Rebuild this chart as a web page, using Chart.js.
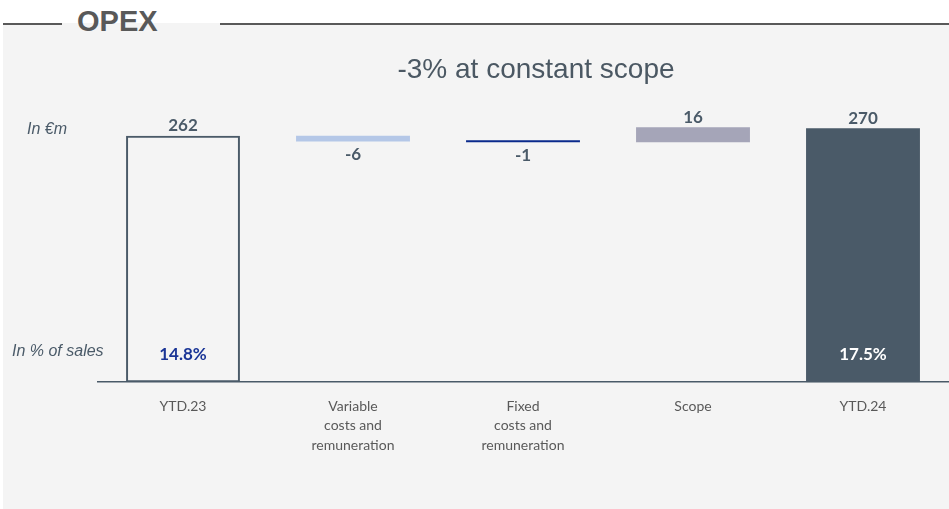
<!DOCTYPE html>
<html lang="en">
<head>
  <meta charset="UTF-8" />
  <title>OPEX</title>
  <script src="https://cdn.jsdelivr.net/npm/chart.js"></script>
  <style>
    body {
      margin: 0;
      background: #ffffff;
      font-family: 'Lato', sans-serif;
    }
    .page {
      position: relative;
      width: 949px;
      height: 509px;
      overflow: hidden;
    }
    .panel {
      position: absolute;
      left: 3px;
      top: 23px;
      width: 946px;
      height: 486px;
      background: #f4f4f4;
    }
    .rule {
      position: absolute;
      top: 23px;
      height: 2px;
      background: #595959;
    }
    .head {
      position: absolute;
      left: 77px;
      top: 4px;
      font-family: 'Liberation Sans', Arial, sans-serif;
      font-weight: bold;
      font-size: 29px;
      line-height: 34px;
      color: #595959;
    }
    canvas { position: absolute; left: 0; top: 0; }
  </style>
</head>
<body>
  <div class="page">
    <div class="panel"></div>
    <div class="rule" style="left:3px;width:59px"></div>
    <div class="rule" style="left:220px;width:729px"></div>
    <div class="head">OPEX</div>
    <canvas id="chart" width="949" height="509"></canvas>
  </div>

  <script>
    const categories = [['YTD.23'], ['Variable', 'costs and', 'remuneration'], ['Fixed', 'costs and', 'remuneration'], ['Scope'], ['YTD.24']];
    const startTotal = 262;
    const deltas = [-6, -1, 16];
    const endTotal = 270;
    const shareOfSales = ['14.8%', '', '', '', '17.5%'];
    const valueLabels = ['262', '-6', '-1', '16', '270'];
    const barColors = ['rgba(0,0,0,0)', '#b4c7e7', '#0a2a8c', '#a5a5b8', '#4a5a68'];

    // floating bars for the bridge
    const bars = [[0, startTotal]];
    let running = startTotal;
    deltas.forEach(d => {
      bars.push([running, running + d]);
      running += d;
    });
    bars.push([0, endTotal]);

    const slate = '#4a5a68';

    const textPlugin = {
      id: 'texts',
      afterDatasetsDraw(chart) {
        const ctx = chart.ctx;
        const meta = chart.getDatasetMeta(0);
        const y = chart.scales.y;
        ctx.save();
        ctx.textAlign = 'center';
        ctx.textBaseline = 'middle';

        // subtitle
        ctx.font = '28px "Liberation Sans", Arial, sans-serif';
        ctx.fillStyle = '#4b5863';
        ctx.fillText('-3% at constant scope', 536, 70);

        // side notes
        ctx.font = 'italic 16px "Liberation Sans", Arial, sans-serif';
        ctx.fillStyle = slate;
        ctx.textAlign = 'left';
        ctx.fillText('In €m', 27, 130);
        ctx.fillText('In % of sales', 12, 352);
        ctx.textAlign = 'center';

        meta.data.forEach((bar, i) => {
          const [a, b] = bars[i];
          ctx.font = 'bold 17px Lato, sans-serif';
          ctx.fillStyle = slate;
          if (i > 0 && i < 4 && b < a) {
            ctx.fillText(valueLabels[i], bar.x, y.getPixelForValue(Math.min(a, b)) + 13);
          } else {
            ctx.fillText(valueLabels[i], bar.x, y.getPixelForValue(Math.max(a, b)) - 10);
          }
          if (shareOfSales[i]) {
            ctx.font = 'bold 17px Lato, sans-serif';
            ctx.fillStyle = i === 0 ? '#1a3596' : '#ffffff';
            ctx.fillText(shareOfSales[i], bar.x, 355);
          }
        });
        ctx.restore();
      }
    };

    new Chart(document.getElementById('chart'), {
      type: 'bar',
      data: {
        labels: categories,
        datasets: [{
          data: bars,
          backgroundColor: barColors,
          borderColor: [slate, 'rgba(0,0,0,0)', 'rgba(0,0,0,0)', 'rgba(0,0,0,0)', 'rgba(0,0,0,0)'],
          borderWidth: [2, 0, 0, 0, 0],
          borderSkipped: false,
          minBarLength: 2,
          categoryPercentage: 1,
          barPercentage: 0.67
        }]
      },
      options: {
        responsive: false,
        animation: false,
        layout: { padding: { left: 98, right: 1, top: 100, bottom: 40 } },
        plugins: {
          legend: { display: false },
          tooltip: { enabled: false }
        },
        scales: {
          x: {
            grid: { display: false, drawTicks: false },
            border: { display: true, color: slate, width: 1.5 },
            ticks: {
              color: '#595959',
              font: { family: '"Liberation Sans Narrow", Lato, sans-serif', size: 14, lineHeight: 1.4 },
              padding: 14,
              maxRotation: 0
            }
          },
          y: {
            display: false,
            min: 0,
            max: 300
          }
        }
      },
      plugins: [textPlugin]
    });
  </script>
</body>
</html>
